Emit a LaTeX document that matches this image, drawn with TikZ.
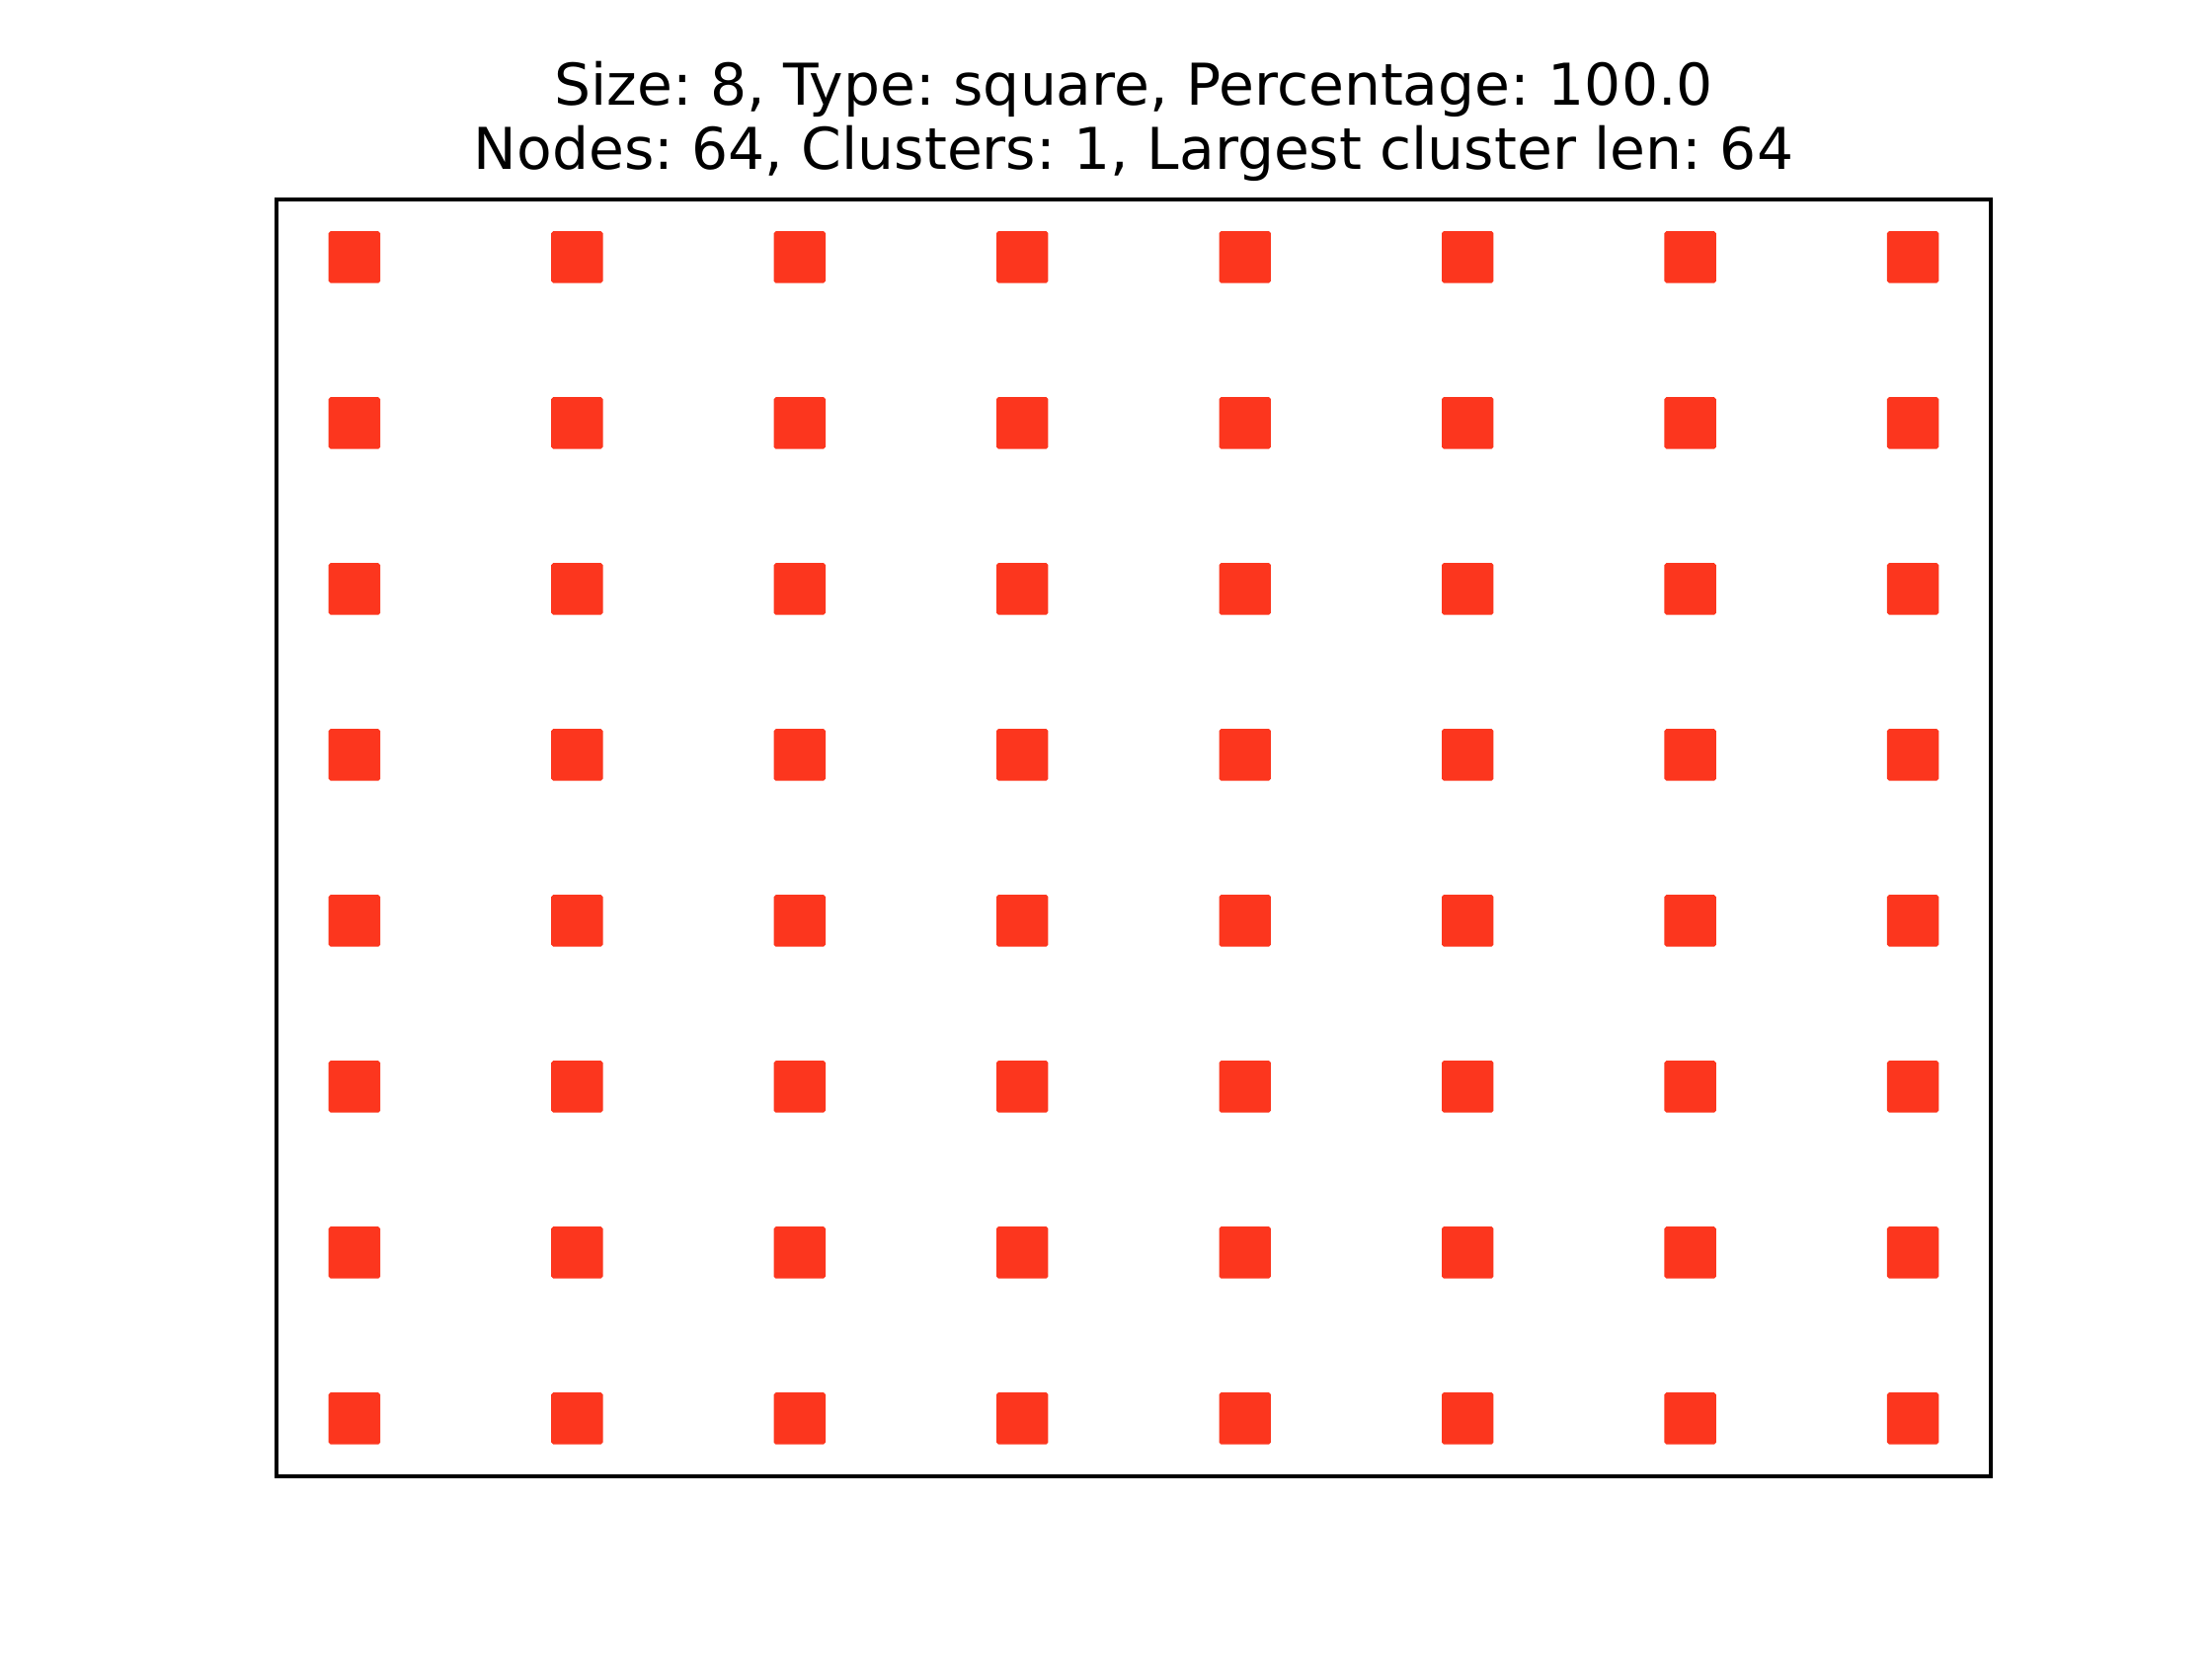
\documentclass[tikz,border=0pt]{standalone}
\usepackage{fontspec}
\setmainfont{DejaVu Sans}
\definecolor{sqred}{HTML}{FC361E}
\begin{document}
\frenchspacing
\begin{tikzpicture}[x=0.205714bp,y=-0.205714bp,
  cell/.style={fill=sqred,draw=none,minimum width=10.78bp,minimum height=10.78bp,inner sep=0pt,rounded corners=0.4bp},
  frame/.style={draw=black,line width=0.8bp},
  ttl/.style={anchor=base,inner sep=0pt,font=\fontsize{12bp}{14.4bp}\selectfont}]
\useasboundingbox[fill=white] (0,0) rectangle (2240,1680);
\node[ttl] (t1) at (1148,106.7) {Size: 8, Type: square, Percentage: 100.0};
\node[ttl] (t2) at (1148,171.7) {Nodes: 64, Clusters: 1, Largest cluster len: 64};
\foreach \i in {0,...,7}{
  \foreach \j in {0,...,7}{
    \node[cell] (sq-\i-\j) at ({280+(0.35+\i)*1736/7.7},{201.6+(0.35+\j)*1293.6/7.7}) {};
  }
}
\draw[frame] (280,201.6) rectangle (2016,1495.2);
\end{tikzpicture}
\end{document}
